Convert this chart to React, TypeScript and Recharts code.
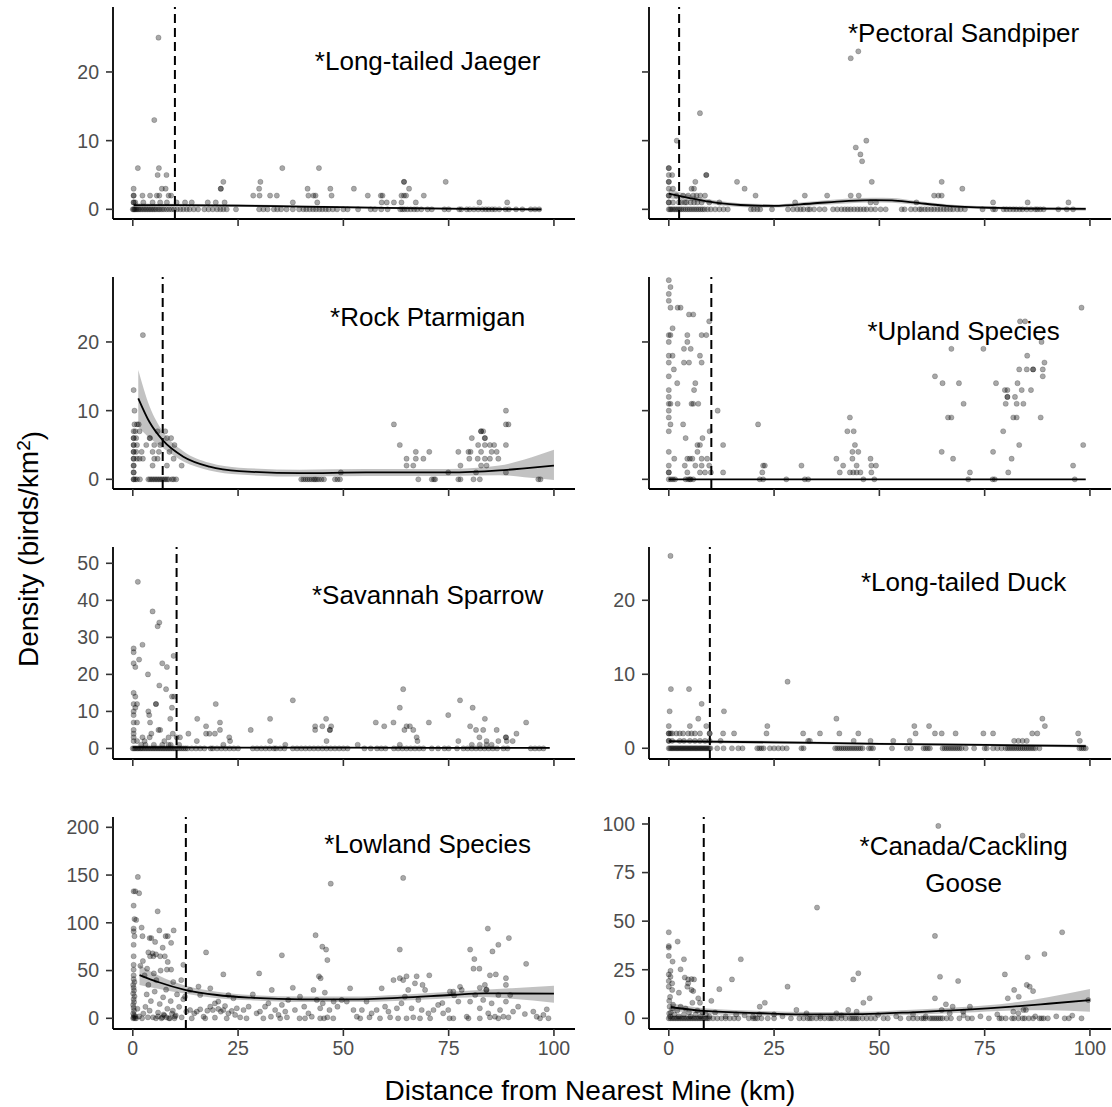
import React from 'react';
import { ComposedChart, Scatter, Line, Area, XAxis, YAxis, ReferenceLine, ReferenceDot } from 'recharts';

type Pt = [number, number];
type Sm = [number, number, number, number]; // x, fit, lower, upper

const FONT = '"Liberation Sans", Arial, Helvetica, sans-serif';

const xTicks = [0, 25, 50, 75, 100];
const xDomain: [number, number] = [-4.7, 105];

const yTicksSmall = [0, 10, 20];
const yTicksSav = [0, 10, 20, 30, 40, 50];
const yTicksLow = [0, 50, 100, 150, 200];
const yTicksGoose = [0, 25, 50, 75, 100];

// ---------- Long-tailed Jaeger ----------
const jaegerPoints: Pt[] = [
  [6.1, 25], [5.1, 13], [1.2, 6], [6.2, 6], [5.9, 5], [8, 5], [0.2, 3], [6.9, 3], [7.8, 3], [35.5, 6], [44.2, 6],
  [21.5, 4], [30.3, 4], [20.9, 3], [20.9, 3], [30, 3], [41.5, 3], [46.9, 3], [52.5, 3], [64.4, 4], [64.4, 4], [65.6, 3], [74.3, 4],
  [0.2, 2], [0.2, 2], [2.3, 2], [4.1, 2], [5.7, 2], [6.3, 2], [8.5, 2], [9.1, 2], [28.6, 2], [30.1, 2], [32.6, 2], [34.2, 2],
  [41.7, 2], [42.9, 2], [43.4, 2], [47.2, 2], [55.8, 2], [58.9, 2], [59.3, 2], [63.8, 2], [64.4, 2], [64.9, 2], [69.1, 2],
  [0.2, 1], [0.2, 1], [0.6, 1], [2.5, 1], [4.7, 1], [6.5, 1], [8.1, 1], [10.4, 1], [12.4, 1], [14, 1], [17.8, 1], [19.7, 1],
  [21.8, 1], [38, 1], [43.8, 1], [59.1, 1], [60.3, 1], [62, 1], [63.8, 1], [67.2, 1], [82.3, 1], [88.9, 1],
];
const jaegerZeros: number[] = [
  0, 0.2, 0.4, 0.6, 0.9, 1.2, 1.5, 1.9, 2.3, 2.7, 3.1, 3.5, 3.9, 4.3, 4.7, 5.1, 5.5, 6, 6.4, 6.9, 7.4, 8, 8.6, 9.2, 9.8,
  10.5, 11.3, 12, 12.8, 13.5, 14.5, 15.5, 17, 18, 19, 20, 20.8, 21.5, 22.3, 24.5, 30, 31, 32, 33.5, 34.3, 35.2, 36.5, 38,
  39.5, 40.5, 41.2, 42, 42.8, 43.5, 44.3, 45, 45.8, 46.5, 47.5, 48.5, 50, 51, 53.5, 56.5, 57.5, 59, 60.5, 63.5, 64, 64.5,
  65.2, 66, 66.8, 67.5, 68.5, 70, 71, 74, 75, 77.5, 78, 79.3, 80, 81, 82, 83, 83.8, 84.5, 85.3, 86, 87, 88.5, 89.3, 91,
  92.5, 94.5, 95.5, 96.5,
];
const jaegerSmooth: Sm[] = [
  [0.2, 0.6, 0.3, 0.9], [10, 0.6, 0.4, 0.8], [25, 0.55, 0.35, 0.75], [40, 0.4, 0.25, 0.55], [60, 0.2, 0.05, 0.35],
  [80, 0.05, -0.1, 0.2], [97, 0, -0.2, 0.2],
];

// ---------- Pectoral Sandpiper ----------
const pectoralPoints: Pt[] = [
  [43.2, 22], [45, 23], [7.4, 14], [1.9, 10], [46.9, 10], [44.4, 9], [45.5, 8], [45.9, 7], [48.2, 4], [0, 6], [0, 6],
  [0.8, 5], [0, 5], [8.9, 5], [8.9, 5], [0, 4], [0, 4], [6.3, 4], [16.2, 4], [18, 3], [64.8, 4], [69.7, 3], [0, 3], [1, 3],
  [5.4, 3], [6, 3],
  [0, 2], [0, 2], [1.8, 2], [3.4, 2], [4.6, 2], [5.8, 2], [6.6, 2], [7.5, 2], [8.6, 2], [20.6, 2], [32.3, 2], [37.6, 2],
  [43.2, 2], [45.1, 2], [63, 2], [64, 2], [64.8, 2],
  [0, 1], [0, 1], [1, 1], [2.4, 1], [3, 1], [3.8, 1], [4.2, 1], [5.2, 1], [6, 1], [6.8, 1], [7.8, 1], [9.6, 1], [12, 1],
  [30, 1], [47.9, 1], [49.2, 1], [58.8, 1], [77, 1], [85.2, 1], [94.9, 1],
];
const pectoralZeros: number[] = [
  0, 0.3, 0.6, 1, 1.4, 1.8, 2.2, 2.6, 3, 3.5, 4, 4.5, 5, 5.5, 6, 6.5, 7, 7.5, 8, 8.5, 9.2, 10, 11, 12, 13, 14, 19.5, 20.2,
  21, 21.7, 24.5, 28.3, 29.5, 30.5, 31.3, 32, 33, 33.5, 34.5, 35.8, 37, 39, 40, 41, 41.8, 42.5, 43.2, 44, 44.8, 45.5, 46.3,
  47, 48, 49, 50.3, 51.5, 55.3, 56, 57.5, 58.5, 59.5, 60, 60.8, 61.5, 62.3, 63, 63.8, 64.5, 65.3, 66, 66.8, 67.5, 68.5,
  69.3, 70.3, 74.5, 77, 77.5, 79.5, 80.2, 81, 81.8, 82.5, 83.3, 84, 85, 86, 87, 87.5, 88.2, 89, 92.5, 94.5, 96,
];
const pectoralSmooth: Sm[] = [
  [0, 2.3, 1.6, 3.0], [3, 1.9, 1.4, 2.4], [6.7, 1.45, 1.1, 1.8], [12, 0.9, 0.6, 1.2], [17, 0.63, 0.35, 0.9],
  [25, 0.5, 0.25, 0.75], [34, 0.85, 0.55, 1.15], [42, 1.2, 0.85, 1.55], [48.5, 1.35, 1.0, 1.7], [53, 1.3, 0.95, 1.65],
  [58, 1.0, 0.7, 1.3], [66, 0.5, 0.25, 0.75], [78, 0.2, 0, 0.4], [88, 0.1, -0.1, 0.3], [99, 0.05, -0.2, 0.3],
];

// ---------- Rock Ptarmigan ----------
const rockPoints: Pt[] = [
  [2.4, 21], [0.2, 13], [0.4, 10], [88.6, 10], [62, 8], [88.6, 8], [89.2, 8], [63.4, 5], [88.6, 5],
  [0.4, 8], [1, 8], [1.4, 8],
  [0.2, 7], [0.6, 7], [1.6, 7], [5.9, 7], [7.7, 7],
  [0.2, 6], [0.2, 6], [0.8, 6], [4, 6], [4.1, 6], [8.1, 6], [9.1, 6],
  [0.2, 5], [0.2, 5], [1, 5], [3.2, 5], [5.1, 5], [6.5, 5], [9.9, 5],
  [0.2, 4], [0.2, 4], [0.8, 4], [2.1, 4], [4.7, 4], [6.2, 4], [8.7, 4],
  [0.2, 3], [0.2, 3], [1, 3], [1.6, 3], [2.4, 3], [5.1, 3], [5.9, 3], [9.7, 3],
  [0.2, 2], [0.2, 2], [4.7, 2], [8.1, 2], [11.6, 2],
  [0.2, 1], [0.2, 1],
  [49.4, 1], [74.9, 1], [81.5, 1], [88.6, 1],
  [65, 2], [66.6, 2], [77.8, 2], [82.7, 2], [84, 2],
  [65, 3], [67.2, 3], [69, 3], [79.9, 3], [81.9, 3], [83.6, 3], [84.8, 3], [86.8, 3],
  [67.2, 4], [70.4, 4], [77.3, 4], [79.7, 4], [80.2, 4], [82.7, 4], [85.2, 4], [86.4, 4],
  [82, 5], [83.6, 5], [84.8, 5], [85.8, 5],
  [80.5, 6], [83.6, 6], [83.6, 6],
  [82.7, 7], [83.2, 7], [82.7, 7],
];
const rockZeros: number[] = [
  0.2, 0.2, 0.6, 1, 1.7, 3.7, 4.1, 4.5, 4.9, 5.3, 5.7, 6.1, 6.5, 6.9, 7.3, 7.7, 8.1, 8.5, 9.3, 9.7, 10.3, 40, 40.5, 41,
  41.5, 42, 42.5, 43, 43.3, 43.7, 44.2, 44.8, 45.4, 48, 48.6, 49.2, 67.8, 71, 71.5, 71.8, 77.3, 77.8, 80.9, 82.4, 96.3, 96.8,
];
const rockSmooth: Sm[] = [
  [1.3, 11.8, 7.7, 15.9], [4, 8.3, 6.0, 10.6], [7.1, 5.7, 4.6, 7.0], [12, 3.3, 2.6, 4.1], [18.2, 1.85, 1.3, 2.4],
  [25.3, 1.2, 0.7, 1.7], [39.6, 0.9, 0.4, 1.4], [55.4, 1.0, 0.5, 1.5], [75, 1.0, 0.5, 1.5], [87, 1.3, 0.6, 2.0],
  [93, 1.6, 0.3, 2.9], [100, 2.0, -0.1, 4.3],
];

// ---------- Upland Species ----------
const uplandPoints: Pt[] = [
  [0, 29], [0.4, 28], [0, 27], [0, 26], [0.4, 25], [2.1, 25], [2.8, 25], [4.8, 24], [5.8, 24], [9.6, 23], [0.9, 22],
  [0, 21], [0.4, 21], [4.4, 21], [7.8, 21], [8.9, 21], [0, 20], [4.4, 20], [3.6, 19], [5.2, 19], [0, 18], [0.9, 18],
  [7.4, 18], [0, 17], [3.6, 17], [4.8, 17], [7.8, 17], [1.2, 16], [0, 15], [2, 14], [6.3, 14], [0, 13], [6, 13], [0, 12],
  [0, 11], [0.4, 11], [2.1, 11], [5.4, 11], [5.8, 11], [7, 11], [0, 10], [11.6, 10], [0, 9], [0.4, 8], [3.4, 8], [21.2, 8],
  [0, 7], [9.7, 7], [4, 6], [8, 6], [6.8, 5], [7.4, 5], [12.9, 5], [0, 4], [6.8, 4], [1.3, 3], [4.4, 3], [5, 3], [5.6, 3],
  [7.8, 3], [9.1, 3], [0, 2], [3.8, 2], [6.3, 2], [7.8, 2], [9.6, 2], [22.4, 2], [22.8, 2], [31.5, 2],
  [0, 1], [0, 1], [4.4, 1], [7.4, 1], [8.6, 1], [10, 1], [12.9, 1], [22.2, 1],
  [43, 9], [42.4, 7], [43.9, 7], [44.2, 5], [43.6, 4], [45, 4], [39.8, 3], [43.6, 3], [47.9, 3], [41.4, 2], [44.6, 2],
  [48.1, 2], [49.2, 2], [40.6, 1], [43, 1], [43.8, 1], [44.6, 1], [45.5, 1], [48.1, 1],
  [67.1, 19], [74.7, 19], [83.4, 23], [84.6, 23], [88.5, 20], [85.1, 18], [89.2, 17], [83.2, 16], [85, 16], [86.5, 16],
  [86.5, 16], [88.8, 16], [63.2, 15], [88.8, 15], [65, 14], [68.9, 14], [77.7, 14], [82.8, 14], [79.8, 13], [80.4, 13],
  [83.8, 13], [86, 13], [80.4, 12], [80.4, 12], [82.2, 12], [70, 11], [80, 11], [82.6, 11], [84.2, 11], [66.3, 9], [67.1, 9],
  [81.8, 9], [82.6, 9], [88.3, 9], [79.4, 7], [64.8, 4], [77, 4], [83.2, 5], [98.4, 5], [67.5, 3], [81.4, 3], [71.5, 1],
  [80.6, 1], [96, 2], [98, 25],
];
const uplandZeros: number[] = [
  0, 0.5, 1, 1.5, 4, 4.6, 5, 5.2, 5.8, 21.6, 22.4, 27.9, 32.3, 33.1, 46.2, 48.8, 71.1, 76.9, 77.4, 96.4,
];
const uplandSmooth: Sm[] = [
  [0, 0, -0.05, 0.05], [50, 0, -0.05, 0.05], [99, 0, -0.05, 0.05],
];

// ---------- Savannah Sparrow ----------
const savannahPoints: Pt[] = [
  [1.2, 45], [4.7, 37], [6.3, 34], [5.9, 33], [2.3, 28], [0.2, 27], [0.2, 26], [1.5, 24], [9.7, 25], [0.2, 23], [0.6, 22],
  [7, 23], [8.1, 22], [3.6, 20], [6.3, 17], [7.9, 16], [9.3, 14], [9.8, 14], [0.2, 15], [0.6, 14], [0.2, 12], [1, 12],
  [5.5, 12], [5.5, 12], [19.7, 12], [0.6, 11], [9.3, 11], [38, 13], [77.7, 13], [80.7, 11], [0.2, 10], [3.7, 10], [3.9, 9],
  [0.2, 9], [0.2, 7], [1, 7], [4.1, 7], [8.9, 8], [15.3, 8], [32.6, 8], [83.6, 8], [0.2, 5], [0.2, 4], [0.2, 3], [0.2, 2],
  [2.3, 3], [4.4, 4], [6.1, 5], [6.5, 5], [8.5, 3], [10.4, 3], [9.5, 4], [13.2, 4], [11.2, 3], [15.2, 2], [17.4, 6],
  [17.4, 4], [18.2, 4], [19.5, 4], [20.7, 7], [20.7, 5], [22.9, 3], [23.1, 2], [28, 5], [32.6, 2], [43.3, 6], [43.3, 5],
  [45, 6], [46.8, 5], [46.8, 5], [47.1, 6], [46, 2], [45.9, 8], [57.7, 7], [59.7, 6], [61.9, 7], [63.4, 11], [64.2, 16],
  [64.5, 5], [65, 6], [65.8, 6], [66.6, 5], [67.4, 3], [67.6, 2], [70.3, 7], [74.9, 9], [77.3, 2], [80.1, 6], [81.5, 5],
  [82.3, 3], [83.2, 5], [84, 2], [86.4, 5], [86.8, 2], [88.6, 3], [88.6, 3], [88.8, 2], [90.2, 2], [91.1, 4], [93.4, 7],
  [21.5, 1], [36.2, 1], [53.4, 1], [63.4, 1], [80.5, 1], [82.4, 1], [84, 1], [85.2, 1], [2, 1], [3, 1], [5, 1], [7, 1],
  [8.5, 1], [1, 2], [2.8, 2], [4, 3], [7.5, 2], [9, 1], [11, 1],
];
const savannahZeros: number[] = [
  0, 0.3, 0.6, 1, 1.3, 1.7, 2, 2.4, 2.8, 3.2, 3.6, 4, 4.4, 4.8, 5.2, 5.6, 6, 6.4, 6.8, 7.2, 7.6, 8, 8.4, 8.8, 9.2, 9.6, 10,
  10.5, 11, 11.5, 12, 12.5, 13, 14, 15, 16, 17, 18.5, 19, 20, 21, 22, 23, 24, 25, 28.5, 29.5, 30.5, 31.5, 32.5, 33.5, 34,
  35, 36, 38, 39, 40, 41, 42, 43, 44, 45, 46, 47, 48, 49, 50, 51, 55, 56.5, 58, 59, 60, 62, 63, 64, 65, 66, 67, 68, 69, 71,
  72.5, 74, 75, 77, 78.5, 79.5, 80.5, 81.5, 82.5, 83.5, 84.5, 85.5, 86.5, 88, 89, 94.5, 95.5, 96.5, 97.5,
];
const savannahSmooth: Sm[] = [
  [0, 0.3, 0.1, 0.5], [50, 0.2, 0.05, 0.35], [99, 0.15, -0.05, 0.35],
];

// ---------- Long-tailed Duck ----------
const duckPoints: Pt[] = [
  [0.4, 26], [0.5, 8], [4.8, 8], [7.8, 6], [0.2, 5], [13.1, 5], [7, 4], [28.2, 9], [39.8, 4], [88.7, 4],
  [0, 3], [5, 3], [8.9, 3], [23.4, 3], [58.3, 3], [61.8, 3], [89.3, 3],
  [0, 2], [0, 2], [0.4, 2], [0.8, 2], [1.8, 2], [2.6, 2], [3.4, 2], [4.6, 2], [5.4, 2], [6.2, 2], [7.4, 2], [9.7, 2],
  [9.7, 2], [12.9, 2], [15.5, 2], [23.2, 2], [31.9, 2], [35.9, 2], [40.5, 2], [45, 2], [58.6, 2], [63.2, 2], [64.8, 2],
  [68.1, 2], [74.7, 2], [77, 2], [86.3, 2], [87.5, 2], [97.2, 2],
  [0, 1], [0, 1], [0.8, 1], [2.6, 1], [3.6, 1], [5, 1], [6.2, 1], [7.4, 1], [8.6, 1], [9.7, 1], [12.3, 1], [33.1, 1],
  [33.5, 1], [43.9, 1], [47.9, 1], [53.3, 1], [57.2, 1], [82, 1], [83, 1], [84, 1], [85, 1], [97.6, 1],
];
const duckZeros: number[] = [
  0, 0.3, 0.6, 0.9, 1.2, 1.5, 1.8, 2.1, 2.4, 2.7, 3, 3.3, 3.6, 3.9, 4.2, 4.5, 4.8, 5.1, 5.4, 5.7, 6, 6.3, 6.6, 6.9, 7.2,
  7.5, 7.8, 8.1, 8.4, 8.7, 9, 9.3, 9.6, 9.9, 11.5, 13, 15, 16.5, 17.5, 21, 21.5, 22, 22.5, 24, 25, 26, 27, 28, 31.5, 32,
  39.5, 40, 40.5, 41, 41.5, 42, 42.5, 43, 43.5, 44, 44.5, 45, 45.5, 46, 47.5, 48, 48.5, 53, 56.5, 57.5, 60.5, 61, 61.5, 62,
  65, 65.5, 66, 66.5, 67, 67.5, 68, 68.5, 69, 69.5, 70.5, 72.5, 75, 75.5, 77, 78, 79, 80, 80.5, 81, 81.5, 82, 82.5, 83,
  83.5, 84, 84.5, 85, 85.5, 86, 86.5, 87, 88, 97.5, 98, 98.5, 99,
];
const duckSmooth: Sm[] = [
  [0, 0.95, 0.7, 1.2], [25, 0.8, 0.6, 1.0], [50, 0.6, 0.45, 0.75], [75, 0.45, 0.3, 0.6], [99, 0.3, 0.1, 0.5],
];

// ---------- Lowland Species ----------
const lowlandPoints: Pt[] = [
  [1.2, 148], [0.2, 133], [0.6, 133], [1.5, 131], [0.2, 118], [5.9, 112], [0.4, 104], [0.8, 103], [2.1, 95], [0.2, 94],
  [0.2, 91], [0.4, 86], [6.3, 92], [9.7, 92], [2.3, 86], [4, 84], [4.4, 84], [7.8, 86], [8.3, 86], [5.3, 80], [7.1, 74],
  [9.1, 79], [0.2, 77], [0.2, 65], [3.7, 69], [4.7, 68], [5.5, 67], [4.1, 65], [4.9, 65], [6.5, 65], [7.6, 65], [2.4, 60],
  [8.3, 59], [0.2, 56], [0.2, 51], [0.2, 45], [12, 56], [8.1, 51], [9.1, 51], [17.4, 69], [21.5, 46], [30, 47], [35.4, 66],
  [43.4, 87], [45, 75], [45.9, 72], [46.2, 61], [47, 141], [44.2, 44], [44.6, 42], [63.4, 72], [64.2, 40], [65, 44],
  [67.4, 44], [68.8, 35], [70.4, 45], [63.4, 42], [64.2, 147], [80.1, 72], [80.9, 52], [82.3, 52], [81.1, 62], [84.3, 94],
  [85.4, 70], [86.8, 77], [84.8, 45], [86.2, 46], [88.6, 42], [88.6, 35], [89.3, 84], [93.4, 57], [83.6, 35], [84, 30],
  [82.4, 32], [77.7, 33], [75.3, 28], [76.3, 24], [73.5, 16],
  [0.2, 1], [0.3, 3], [0.1, 5], [0.3, 8], [0.2, 11], [0.1, 14], [0.3, 17], [0.2, 20], [0.4, 23], [0.1, 26], [0.3, 29],
  [0.2, 32], [0.1, 35], [0.4, 38], [0.2, 41], [0.6, 2],
  [1.5, 2], [2.5, 5], [3, 12], [3.3, 25], [3.7, 35], [4, 8], [4.3, 18], [4.8, 1], [5.2, 28], [5.6, 40], [6, 6], [6.4, 15],
  [7.2, 22], [7.5, 3], [7.9, 30], [8.2, 10], [9, 18], [9.3, 5], [9.6, 38], [10, 2], [10.5, 25], [11, 12], [11.5, 40],
  [12, 20], [1.1, 10], [2.8, 45], [1.8, 55], [5, 47], [6.6, 50], [3.4, 52], [3.6, 1], [7, 1], [6, 2], [7.3, 4], [8, 1],
  [9.5, 8], [10.2, 3],
  [12.7, 7], [13.6, 8.7], [14.6, 5.2], [15.2, 7], [16, 9.4], [16.8, 1.7], [17.7, 8], [18.4, 12.2], [19, 8.7], [19.5, 15.7],
  [20.3, 9.8], [20.9, 7], [21.5, 8.7], [21.9, 12.9], [22.7, 5.2], [23.5, 7.7], [24.3, 3.5], [24.7, 10.5], [12.4, 22.7],
  [13.6, 29.7], [16, 24.4], [18.4, 31.4], [20.3, 17.5], [22.7, 24.4], [23.9, 21], [15.6, 33.2], [11.6, 1], [19.5, 0.7],
  [25.5, 1],
  [26.3, 8.7], [27.5, 12.2], [28.5, 25], [29.4, 5.2], [30.2, 7], [31.4, 12.2], [32.2, 15.7], [33, 29.7], [33.8, 8.7],
  [34.6, 3.5], [35.4, 14], [36.2, 7], [36.9, 19.2], [38, 32], [38.5, 8.7], [39.7, 22.7], [40.7, 12.2], [41.7, 5.2],
  [42.9, 29.7], [43.7, 19.2], [44.5, 10.5], [45.1, 15.7], [45.6, 26.9], [46.7, 8.7], [47.7, 17.5], [48.6, 12.2],
  [49.6, 19.2], [32.8, 1.7], [36.6, 1], [42.5, 1.7], [46.2, 1],
  [50.8, 17.5], [51.6, 31.4], [52.4, 8.7], [53.2, 1.7], [54.4, 8.7], [55.5, 17.5], [56.7, 5.2], [57.9, 8.7], [59.1, 31.4],
  [59.9, 12.2], [60.7, 7], [61.9, 40], [62.7, 10.5], [63.8, 15.7], [64.6, 22.7], [65.4, 29.7], [66.2, 10.5], [67, 36.6],
  [67.8, 19.2], [68.6, 8.7], [69.4, 29.7], [70.2, 5.2], [71.4, 8.7], [72.5, 14], [73.7, 5.2], [74.9, 8.7], [56.2, 1],
  [61.1, 1], [66.6, 1],
  [76.1, 27.9], [77.3, 17.5], [78.1, 29.7], [79.3, 1.7], [80.1, 17.5], [81.3, 24.4], [82.4, 10.5], [83.2, 19.2],
  [83.9, 29.7], [84.4, 5.2], [85.2, 15.7], [86, 1.7], [86.8, 24.4], [87.2, 8.7], [88, 1.7], [88.6, 17.5], [89.6, 24.4],
  [90.3, 7], [91.5, 12.2], [93.1, 4.5], [95.1, 7], [95.9, 1.7], [97.5, 3.5], [98.3, 9.4], [84.8, 1], [89.2, 1],
];
const lowlandZeros: number[] = [
  0.1, 0.5, 0.8, 2.2, 5.5, 6.8, 8.6, 8.8, 9.9, 14, 17.2, 22.3, 27, 31, 35, 39.6, 40.9, 44.5, 45.4, 47.6, 54, 58.7, 63, 65,
  68.2, 70.6, 75.2, 76.1, 79.7, 82.4, 86.8, 96.7, 98.7,
];
const lowlandSmooth: Sm[] = [
  [1.6, 45.3, 35, 55.8], [6, 38, 31, 45], [12.6, 29.6, 25.7, 34], [20, 24.4, 21, 27.8], [28, 21.6, 18.8, 24.4],
  [40, 19.9, 17, 22.8], [51.8, 19.9, 17, 22.8], [63.7, 21.6, 18.5, 24.7], [75.5, 24.4, 21, 27.8], [83.4, 26.1, 22.2, 30],
  [90, 26, 20.5, 31.5], [100, 25.8, 16.4, 34],
];

// ---------- Canada/Cackling Goose ----------
const goosePoints: Pt[] = [
  [64, 99], [84, 94], [35.2, 57], [63.2, 42.4], [93.4, 44.3], [89.2, 33.1], [85.2, 31.4], [0, 44.3], [0, 37.2], [0, 36.4],
  [0, 32.1], [2.1, 39.5], [3.6, 30.4], [2.8, 25.2], [0.9, 29.2], [0.4, 24.4], [0, 22.6], [0.4, 21.4], [0, 19.2], [0.8, 18],
  [0, 16.3], [0.8, 14.6], [2.4, 13.2], [3.8, 21], [4.6, 20], [5.4, 20.2], [6, 20], [4.6, 18], [5.4, 14.6], [4.4, 16.3],
  [5.8, 14], [17.1, 30.4], [15, 20], [12, 15], [10.1, 9], [7.4, 8], [7, 10.3], [21.6, 6], [22.8, 8], [28.2, 16.3],
  [43.8, 20], [45, 23.2], [47.7, 10.3], [46.2, 8], [63.2, 10.3], [64.4, 21.4], [65.8, 7.2], [67.4, 6], [68.7, 19.2],
  [71.5, 6], [69.9, 3.4], [79.8, 22.6], [80.5, 10.3], [82, 14.6], [83.1, 11.1], [85, 17.2], [85.7, 16.3], [86.5, 14],
  [84.8, 4.3], [99.6, 9.4], [95.8, 1.4],
  [0.3, 1], [0.5, 3], [0.8, 5], [1, 7], [1.3, 2], [2, 4], [2.4, 1], [2.8, 6], [3.6, 2], [4, 5], [4.8, 3], [5.2, 1],
  [5.6, 8], [6.4, 2], [6.8, 4], [7.6, 1], [8, 3], [8.8, 2], [9.6, 1], [0.1, 2.5], [0.2, 6], [0.1, 9], [0.3, 11], [13.5, 1],
  [16, 2], [20, 1], [21.5, 2], [27, 1], [30.3, 4.3], [32.7, 2.6], [39.8, 2.6], [42.6, 4.3], [44.6, 3.4], [49.7, 1.7],
  [64.8, 4.3], [66.7, 2.6], [81.8, 3.4], [83, 2.6], [84.2, 4.3], [11, 3], [18, 1.5], [25, 2], [36, 1], [41, 1.5], [54, 1],
  [58, 2], [61, 1], [70, 1.5], [74, 1], [78, 2], [87, 1], [92, 1],
];
const gooseZeros: number[] = [
  0, 0.4, 0.8, 1.2, 1.6, 2, 2.4, 2.8, 3.2, 3.6, 4, 4.4, 4.8, 5.2, 5.6, 6, 6.4, 6.8, 7.2, 7.6, 8, 8.4, 8.8, 9.2, 9.6, 10.5,
  11.5, 12.5, 13.5, 14.5, 15.5, 16.5, 19, 20, 20.5, 21, 22, 23.5, 25, 29, 31, 32, 33, 33.5, 34, 35, 36, 37, 38, 38.5, 39,
  40, 41, 42, 43, 43.5, 44, 44.5, 45, 46, 47, 48, 49, 51, 52, 55, 57, 58, 59, 60, 60.5, 61, 62, 62.5, 63, 63.5, 64, 64.5,
  65, 66, 67, 69, 71, 72, 76, 78.5, 79, 80, 81.5, 82, 83, 84, 84.5, 85.5, 86.5, 88, 88.5, 89, 90, 94, 95, 98,
];
const gooseSmooth: Sm[] = [
  [0.5, 5.7, 3.7, 7.7], [8.3, 3.8, 2.4, 5.2], [22.3, 2.6, 1.4, 3.8], [34.1, 2.0, 0.8, 3.2], [46, 2.2, 1.0, 3.4],
  [57.8, 3.1, 1.8, 4.4], [69.7, 4.3, 2.8, 5.8], [81.6, 6.0, 4.0, 8.0], [90, 7.5, 4.2, 10.8], [100, 9.4, 3.4, 15.1],
];

interface PanelCfg {
  title: string[];
  titleY: number;
  cut: number;
  yDomain: [number, number];
  yTicks: number[];
  points: Pt[];
  zeros: number[];
  smooth: Sm[];
  showY: boolean;
  showX: boolean;
  left: number;
  top: number;
}

const LEFT_A = 113.3;
const LEFT_B = 648.8;
const TOPS = [7, 277, 547, 817];
const TITLE_X = 70;

const panels: PanelCfg[] = [
  { title: ['*Long-tailed Jaeger'], titleY: 21.7, cut: 10.0, yDomain: [-1.41, 29.46], yTicks: yTicksSmall, points: jaegerPoints, zeros: jaegerZeros, smooth: jaegerSmooth, showY: true, showX: false, left: LEFT_A, top: TOPS[0] },
  { title: ['*Pectoral Sandpiper'], titleY: 25.7, cut: 2.45, yDomain: [-1.41, 29.46], yTicks: yTicksSmall, points: pectoralPoints, zeros: pectoralZeros, smooth: pectoralSmooth, showY: false, showX: false, left: LEFT_B, top: TOPS[0] },
  { title: ['*Rock Ptarmigan'], titleY: 23.7, cut: 7.1, yDomain: [-1.41, 29.46], yTicks: yTicksSmall, points: rockPoints, zeros: rockZeros, smooth: rockSmooth, showY: true, showX: false, left: LEFT_A, top: TOPS[1] },
  { title: ['*Upland Species'], titleY: 21.7, cut: 10.1, yDomain: [-1.41, 29.46], yTicks: yTicksSmall, points: uplandPoints, zeros: uplandZeros, smooth: uplandSmooth, showY: false, showX: false, left: LEFT_B, top: TOPS[1] },
  { title: ['*Savannah Sparrow'], titleY: 41.4, cut: 10.4, yDomain: [-2.85, 54.4], yTicks: yTicksSav, points: savannahPoints, zeros: savannahZeros, smooth: savannahSmooth, showY: true, showX: false, left: LEFT_A, top: TOPS[2] },
  { title: ['*Long-tailed Duck'], titleY: 22.5, cut: 9.75, yDomain: [-1.45, 27.2], yTicks: yTicksSmall, points: duckPoints, zeros: duckZeros, smooth: duckSmooth, showY: true, showX: false, left: LEFT_B, top: TOPS[2] },
  { title: ['*Lowland Species'], titleY: 183, cut: 12.6, yDomain: [-11.2, 210.8], yTicks: yTicksLow, points: lowlandPoints, zeros: lowlandZeros, smooth: lowlandSmooth, showY: true, showX: true, left: LEFT_A, top: TOPS[3] },
  { title: ['*Canada/Cackling', 'Goose'], titleY: 79.2, cut: 8.3, yDomain: [-5.5, 103.6], yTicks: yTicksGoose, points: goosePoints, zeros: gooseZeros, smooth: gooseSmooth, showY: true, showX: true, left: LEFT_B, top: TOPS[3] },
];

const hiddenTick = () => <g />;

const dotShape = (p: any) => (
  <circle cx={p.cx} cy={p.cy} r={2.6} fill="#000" fillOpacity={0.34} stroke="#000" strokeOpacity={0.3} strokeWidth={0.6} />
);

const titleShape = (lines: string[]) => (p: any) => (
  <text x={p.cx} y={p.cy} textAnchor="middle" fontFamily={FONT} fontSize={26} fill="#000">
    {lines.map((l, i) => (
      <tspan key={i} x={p.cx} dy={i === 0 ? `${0.36 - (lines.length - 1) * 0.71}em` : '1.42em'}>
        {l}
      </tspan>
    ))}
  </text>
);

function Panel({ cfg }: { cfg: PanelCfg }) {
  const YW = 60;
  const PW = 462;
  const PH = 212;
  const MT = 14;
  const XH = cfg.showX ? 45 : 12;
  const smoothData = cfg.smooth.map(([x, y, lo, hi]) => ({ x, y, band: [lo, hi] }));
  const pts = [...cfg.points, ...cfg.zeros.map((x) => [x, 0] as Pt)].map(([x, y]) => ({ x, y }));
  const tickStyle = { fill: '#4d4d4d', fontSize: 19.5, fontFamily: FONT };
  return (
    <div style={{ position: 'absolute', left: cfg.left - YW, top: cfg.top - MT }}>
      <ComposedChart
        width={YW + PW + 6}
        height={PH + XH + MT}
        data={smoothData}
        margin={{ top: MT, right: 6, bottom: 0, left: 0 }}
      >
        <XAxis
          type="number"
          dataKey="x"
          domain={xDomain}
          ticks={xTicks}
          interval={0}
          allowDataOverflow
          height={XH}
          tickSize={7}
          tickMargin={5}
          axisLine={{ stroke: '#000', strokeWidth: 1.8 }}
          tickLine={{ stroke: '#333', strokeWidth: 1.6 }}
          tick={cfg.showX ? tickStyle : hiddenTick}
        />
        <YAxis
          type="number"
          dataKey="y"
          domain={cfg.yDomain}
          ticks={cfg.yTicks}
          interval={0}
          allowDataOverflow
          width={YW}
          tickSize={7}
          tickMargin={7}
          axisLine={{ stroke: '#000', strokeWidth: 1.8 }}
          tickLine={{ stroke: '#333', strokeWidth: 1.6 }}
          tick={cfg.showY ? tickStyle : hiddenTick}
        />
        <Scatter data={pts} isAnimationActive={false} shape={dotShape} />
        <Area
          type="monotone"
          dataKey="band"
          stroke="none"
          fill="#999999"
          fillOpacity={0.6}
          activeDot={false}
          isAnimationActive={false}
        />
        <Line
          type="monotone"
          dataKey="y"
          stroke="#000"
          strokeWidth={1.8}
          dot={false}
          activeDot={false}
          isAnimationActive={false}
        />
        <ReferenceLine x={cfg.cut} stroke="#000" strokeWidth={2} strokeDasharray="9 5" />
        <ReferenceDot x={TITLE_X} y={cfg.titleY} r={0} shape={titleShape(cfg.title)} />
      </ComposedChart>
    </div>
  );
}

export default function App() {
  return (
    <div style={{ position: 'absolute', left: 0, top: 0, width: 1112, height: 1107, background: '#fff' }}>
      {panels.map((cfg, i) => (
        <Panel key={i} cfg={cfg} />
      ))}
      <svg
        width={1112}
        height={1107}
        style={{ position: 'absolute', left: 0, top: 0, pointerEvents: 'none' }}
      >
        <text
          x={28}
          y={549}
          transform="rotate(-90 28 549)"
          textAnchor="middle"
          dy="0.36em"
          fontFamily={FONT}
          fontSize={28}
          fill="#000"
        >
          Density (birds/km
          <tspan dy="-0.45em" fontSize={19}>2</tspan>
          <tspan dy="0.45em">)</tspan>
        </text>
        <text x={590} y={1090} textAnchor="middle" dy="0.36em" fontFamily={FONT} fontSize={28} fill="#000">
          Distance from Nearest Mine (km)
        </text>
      </svg>
    </div>
  );
}
